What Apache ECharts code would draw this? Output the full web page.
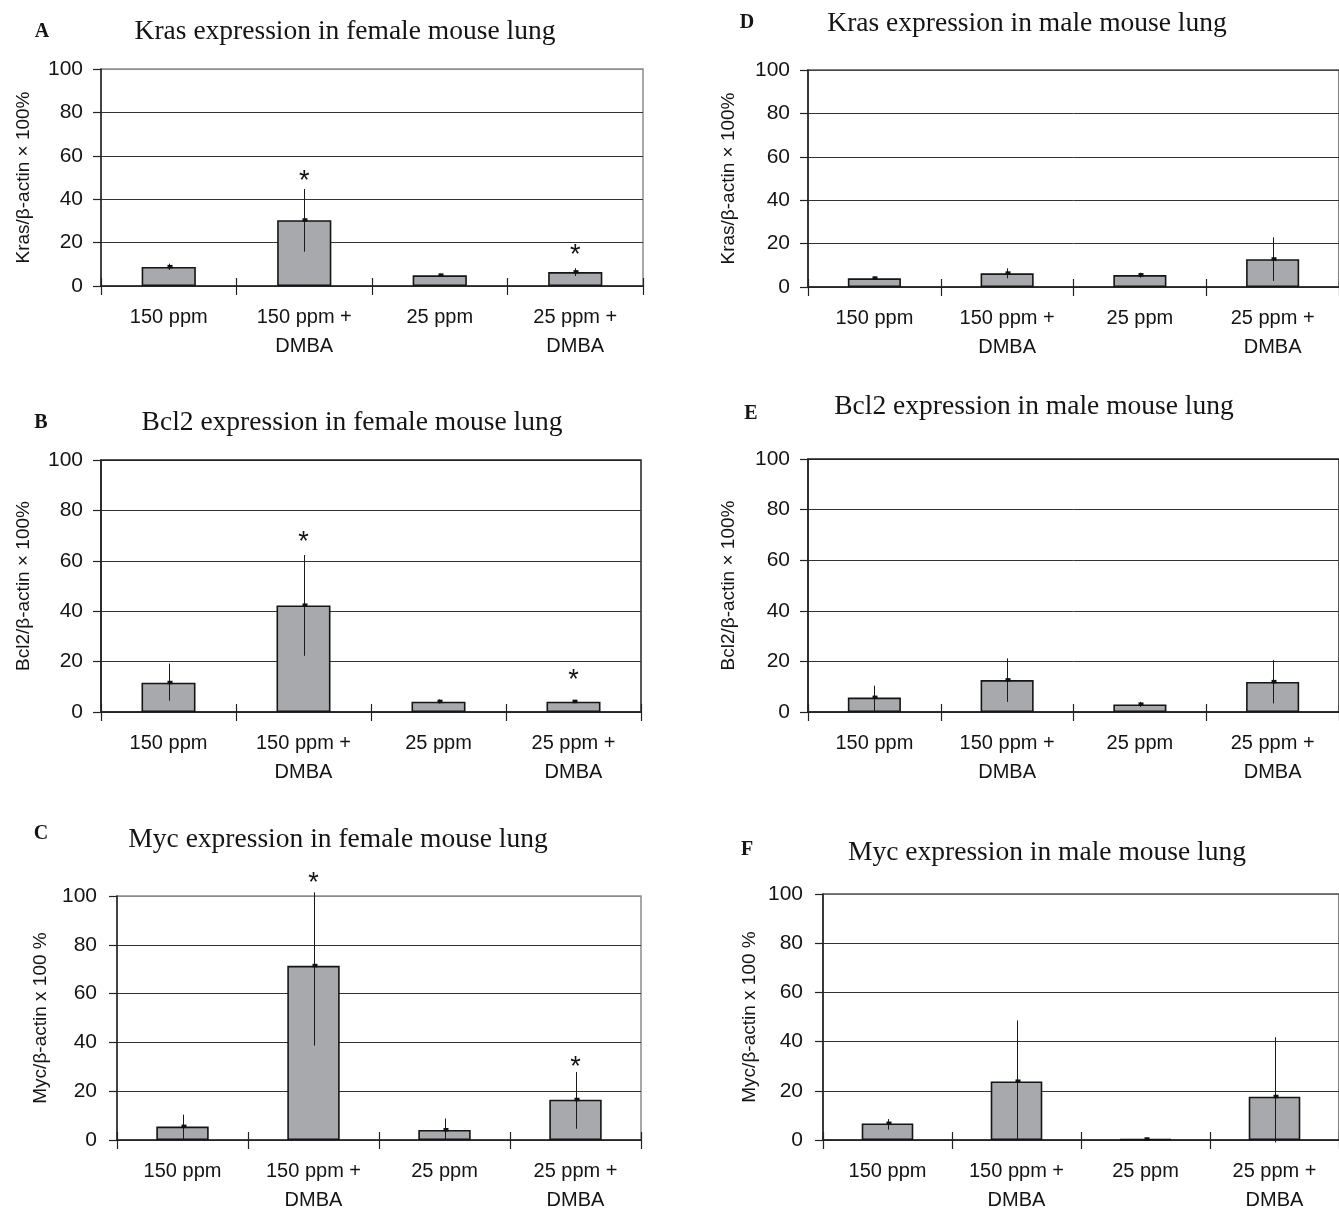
<!DOCTYPE html>
<html><head><meta charset="utf-8">
<script src="https://cdn.jsdelivr.net/npm/echarts@6/dist/echarts.min.js"></script>
<style>html,body{margin:0;padding:0;background:#fff;}#c{width:1339px;height:1215px;}</style>
</head><body><div id="c"></div>
<script>
// ---------- data ----------
const categories = ['150 ppm', '150 ppm +\nDMBA', '25 ppm', '25 ppm +\nDMBA'];
const yMin = 0, yMax = 100, yStep = 20;

// A: Kras, female
const krasFemaleMean = [8.8, 30.3, 4.9, 6.4];
const krasFemaleLow  = [7.4, 15.8, 4.2, 4.6];
const krasFemaleHigh = [10.3, 44.7, 5.6, 8.2];
const krasFemaleStar = [null, 51, null, 16.6];
// D: Kras, male
const krasMaleMean = [4.0, 6.3, 5.5, 12.8];
const krasMaleLow  = [3.4, 4.0, 4.3, 2.8];
const krasMaleHigh = [4.8, 8.6, 6.6, 22.9];
const krasMaleStar = [null, null, null, null];
// B: Bcl2, female
const bcl2FemaleMean = [11.6, 42.3, 4.1, 4.1];
const bcl2FemaleLow  = [4.5, 22.3, 3.4, 3.5];
const bcl2FemaleHigh = [19.2, 62.3, 5.0, 4.8];
const bcl2FemaleStar = [null, 69.6, null, 15];
// E: Bcl2, male
const bcl2MaleMean = [5.7, 12.6, 3.0, 11.9];
const bcl2MaleLow  = [0.3, 4.0, 2.0, 3.4];
const bcl2MaleHigh = [10.4, 21.2, 4.0, 20.5];
const bcl2MaleStar = [null, null, null, null];
// C: Myc, female
const mycFemaleMean = [5.5, 71.4, 4.1, 16.5];
const mycFemaleLow  = [0.2, 38.7, 0.2, 4.6];
const mycFemaleHigh = [10.4, 101.5, 8.8, 27.9];
const mycFemaleStar = [null, 107.5, null, 32];
// F: Myc, male
const mycMaleMean = [6.7, 23.8, 0.3, 17.6];
const mycMaleLow  = [4.2, 0.0, 0.3, -1.0];
const mycMaleHigh = [8.5, 48.6, 0.3, 41.8];
const mycMaleStar = [null, null, null, null];

// ---------- panels (text + layout) ----------
const panels = [
  {letter:'A', title:'Kras expression in female mouse lung', yName:'Kras/β-actin × 100%',
   mean:krasFemaleMean, low:krasFemaleLow, high:krasFemaleHigh, star:krasFemaleStar,
   grid:{left:101, top:69, width:542, height:217}, nameGap:68, lm:18, border:'#8c8c8c', topLine:'#8c8c8c',
   lx:42, ly:32, tx:345, ty:32},
  {letter:'D', title:'Kras expression in male mouse lung', yName:'Kras/β-actin × 100%',
   mean:krasMaleMean, low:krasMaleLow, high:krasMaleHigh, star:krasMaleStar,
   grid:{left:808, top:70, width:544, height:217}, nameGap:70, lm:18, border:'#555', topLine:'#444',
   lx:747, ly:23, tx:1027, ty:24},
  {letter:'B', title:'Bcl2 expression in female mouse lung', yName:'Bcl2/β-actin × 100%',
   mean:bcl2FemaleMean, low:bcl2FemaleLow, high:bcl2FemaleHigh, star:bcl2FemaleStar,
   grid:{left:101, top:460, width:540, height:252}, nameGap:68, lm:18, border:'#222', topLine:'#222',
   lx:41, ly:423, tx:352, ty:423},
  {letter:'E', title:'Bcl2 expression in male mouse lung', yName:'Bcl2/β-actin × 100%',
   mean:bcl2MaleMean, low:bcl2MaleLow, high:bcl2MaleHigh, star:bcl2MaleStar,
   grid:{left:808, top:459, width:544, height:253}, nameGap:70, lm:18, border:'#222', topLine:'#222',
   lx:751, ly:414, tx:1034, ty:407},
  {letter:'C', title:'Myc expression in female mouse lung', yName:'Myc/β-actin x 100 %',
   mean:mycFemaleMean, low:mycFemaleLow, high:mycFemaleHigh, star:mycFemaleStar,
   grid:{left:117, top:896, width:524, height:253}, nameGap:67, lm:20, border:'#8c8c8c', topLine:'#8c8c8c',
   lx:41, ly:834, tx:338, ty:840},
  {letter:'F', title:'Myc expression in male mouse lung', yName:'Myc/β-actin x 100 %',
   mean:mycMaleMean, low:mycMaleLow, high:mycMaleHigh, star:mycMaleStar,
   grid:{left:823, top:894, width:528, height:255}, nameGap:64, lm:20, border:'#555', topLine:'#666',
   lx:747, ly:850, tx:1047, ty:853}
];

const SANS = '"Liberation Sans", Arial, sans-serif';
const SERIF = '"Liberation Serif", "Times New Roman", serif';
const TXT = '#141414';

const grids = [], xAxes = [], yAxes = [], series = [], graphics = [];

function errRender(params, api) {
  const i = api.value(0);
  const lo = api.coord([i, api.value(1)]);
  const hi = api.coord([i, api.value(2)]);
  const m = api.coord([i, api.value(3)]);
  const x = Math.round(lo[0]) + 0.5;
  return {type:'group', children:[
    {type:'line', shape:{x1:x, y1:lo[1], x2:x, y2:hi[1]}, style:{stroke:'#1a1a1a', lineWidth:1}},
    {type:'rect', shape:{x:x-2, y:m[1]-2, width:5, height:3.5}, style:{fill:'#111'}}
  ]};
}
function starRender(params, api) {
  const p = api.coord([api.value(0), api.value(1)]);
  return {type:'text', x:p[0], y:p[1] + 6,
    style:{text:'*', font:'27px ' + SANS, fill:TXT, align:'center', verticalAlign:'middle'}};
}

panels.forEach((p, k) => {
  grids.push(Object.assign({show:true, borderColor:p.border, borderWidth:1.5, backgroundColor:'transparent'}, p.grid));
  const xBase = {
    type:'category', data:categories, gridIndex:k, position:'bottom',
    axisTick:{show:true, alignWithLabel:false, length:9, lineStyle:{color:'#222', width:1.2}},
  };
  xAxes.push(Object.assign({}, xBase, {
    axisLine:{show:true, lineStyle:{color:'#222', width:1.5}},
    axisLabel:{show:true, color:TXT, fontFamily:SANS, fontSize:20, lineHeight:29, margin:17, interval:0}
  }));
  xAxes.push(Object.assign({}, xBase, {
    axisLine:{show:false}, axisTick:Object.assign({}, xBase.axisTick, {inside:true, length:8}),
    axisLabel:{show:false}
  }));
  yAxes.push({
    type:'value', gridIndex:k, min:yMin, max:yMax, interval:yStep,
    axisLine:{show:true, lineStyle:{color:'#222', width:1.5}},
    axisTick:{show:true, length:8, lineStyle:{color:'#222', width:1.2}},
    axisLabel:{color:TXT, fontFamily:SANS, fontSize:21, margin:p.lm},
    splitLine:{show:true, lineStyle:{color:['#333','#333','#333','#333','#333',p.topLine], width:1}},
    name:p.yName, nameLocation:'middle', nameGap:p.nameGap,
    nameTextStyle:{color:TXT, fontFamily:SANS, fontSize:19}
  });
  series.push({
    type:'bar', xAxisIndex:2*k, yAxisIndex:k, data:p.mean, barCategoryGap:'60%',
    itemStyle:{color:'#a8a9ac', borderColor:'#151515', borderWidth:1.6}, silent:true, z:2
  });
  series.push({
    type:'custom', xAxisIndex:2*k, yAxisIndex:k, renderItem:errRender, clip:false, z:3, silent:true,
    encode:{x:0, y:[1,2]},
    data:p.mean.map((v, i) => [i, p.low[i], p.high[i], v])
  });
  const stars = p.star.map((v, i) => v == null ? null : [i, v]).filter(d => d);
  if (stars.length) series.push({
    type:'custom', xAxisIndex:2*k, yAxisIndex:k, renderItem:starRender, clip:false, z:4, silent:true,
    encode:{x:0, y:1}, data:stars
  });
  graphics.push({type:'text', x:p.lx, y:p.ly,
    style:{text:p.letter, font:'bold 20px ' + SERIF, fill:TXT, align:'center', verticalAlign:'middle'}});
  graphics.push({type:'text', x:p.tx, y:p.ty,
    style:{text:p.title, font:'27.5px ' + SERIF, fill:TXT, align:'center', verticalAlign:'middle'}});
});

const chart = echarts.init(document.getElementById('c'), null, {renderer:'canvas'});
chart.setOption({
  animation:false, backgroundColor:'#fff',
  grid:grids, xAxis:xAxes, yAxis:yAxes, series:series, graphic:graphics
});
</script></body></html>
